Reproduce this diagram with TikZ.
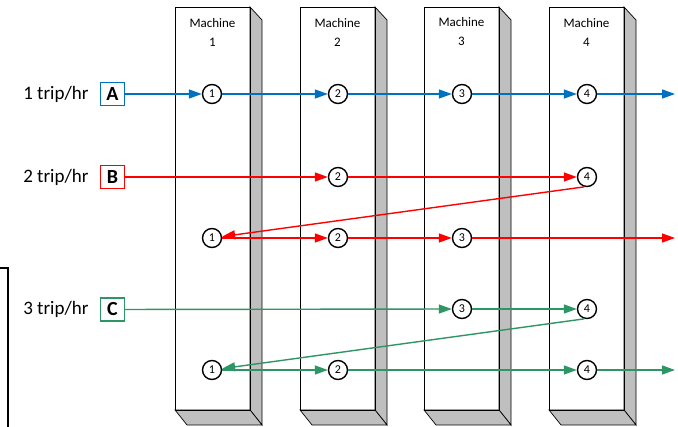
\documentclass[tikz,border=0pt]{standalone}
\usepackage{fontspec}
\setmainfont{Carlito}
\usetikzlibrary{arrows.meta}
\definecolor{cblue}{RGB}{0,112,192}
\definecolor{cred}{RGB}{255,0,0}
\definecolor{cgreen}{RGB}{46,150,100}
\definecolor{cgray}{RGB}{191,191,191}
\begin{document}
\begin{tikzpicture}[x=1pt,y=-1pt,
  op/.style={circle,draw=black,line width=1.4pt,fill=white,minimum size=19pt,inner sep=0pt,font=\fontsize{12}{13}\selectfont},
  job/.style={draw,line width=1.3pt,minimum width=24pt,minimum height=23pt,inner sep=0pt,font=\fontsize{20}{22}\selectfont\bfseries},
  rate/.style={font=\fontsize{19}{21}\selectfont,anchor=east},
  flow/.style={line width=1.4pt,-{Triangle[length=13pt,width=9pt]}},
  mlabel/.style={font=\fontsize{13}{19}\selectfont,align=center}]
\useasboundingbox (0,0) rectangle (678,427);
% machines
\foreach \i/\x in {1/175,2/300,3/424,4/549}{
  \fill[white] (\x,7) rectangle (\x+75,410);
  \filldraw[fill=cgray,draw=black,line width=0.7pt] (\x+75,7) -- (\x+87,20) -- (\x+87,425) -- (\x+75,410) -- cycle;
  \filldraw[fill=cgray,draw=black,line width=0.7pt] (\x,410) -- (\x+75,410) -- (\x+87,425) -- (\x+12,425) -- cycle;
  \draw[black,line width=0.7pt] (\x,7) rectangle (\x+75,410);
  \node[mlabel] (m\i) at (\x+37.5,32) {Machine\\\i};
}
% left fragment
\draw[black,line width=1.2pt] (0,268) -- (8,268) -- (8,427);
% labels and job boxes
\node[rate] (rA) at (92,94) {1 trip/hr};
\node[rate] (rB) at (92,177) {2 trip/hr};
\node[rate] (rC) at (92,309) {3 trip/hr};
\node[job,draw=cblue] (A) at (112.5,94) {A};
\node[job,draw=cred] (B) at (112.5,177) {B};
\node[job,draw=cgreen] (C) at (112.5,309.5) {C};
% operation circles
\node[op] (a1) at (212,94) {1};
\node[op] (a2) at (338,94) {2};
\node[op] (a3) at (462,94) {3};
\node[op] (a4) at (587,94) {4};
\node[op] (b2) at (338,177) {2};
\node[op] (b4) at (587,177) {4};
\node[op] (b5) at (212,238) {1};
\node[op] (b6) at (338,238) {2};
\node[op] (b7) at (462,238) {3};
\node[op] (c3) at (462,309) {3};
\node[op] (c4) at (587,309) {4};
\node[op] (c5) at (212,370) {1};
\node[op] (c6) at (338,370) {2};
\node[op] (c7) at (587,370) {4};
\coordinate (aend) at (675,94);
\coordinate (bend) at (675,238);
\coordinate (cend) at (675,370);
% flows
\draw[flow,cblue] (A) -- (a1);
\draw[flow,cblue] (a1) -- (a2);
\draw[flow,cblue] (a2) -- (a3);
\draw[flow,cblue] (a3) -- (a4);
\draw[flow,cblue] (a4) -- (aend);
\draw[flow,cred] (B) -- (b2);
\draw[flow,cred] (b2) -- (b4);
\draw[flow,cred] (b4.-105) -- (b5);
\draw[flow,cred] (b5) -- (b6);
\draw[flow,cred] (b6) -- (b7);
\draw[flow,cred] (b7) -- (bend);
\draw[flow,cgreen] (C) -- (c3);
\draw[flow,cgreen] (c3) -- (c4);
\draw[flow,cgreen] (c4.-105) -- (c5);
\draw[flow,cgreen] (c5) -- (c6);
\draw[flow,cgreen] (c6) -- (c7);
\draw[flow,cgreen] (c7) -- (cend);
\end{tikzpicture}
\end{document}
